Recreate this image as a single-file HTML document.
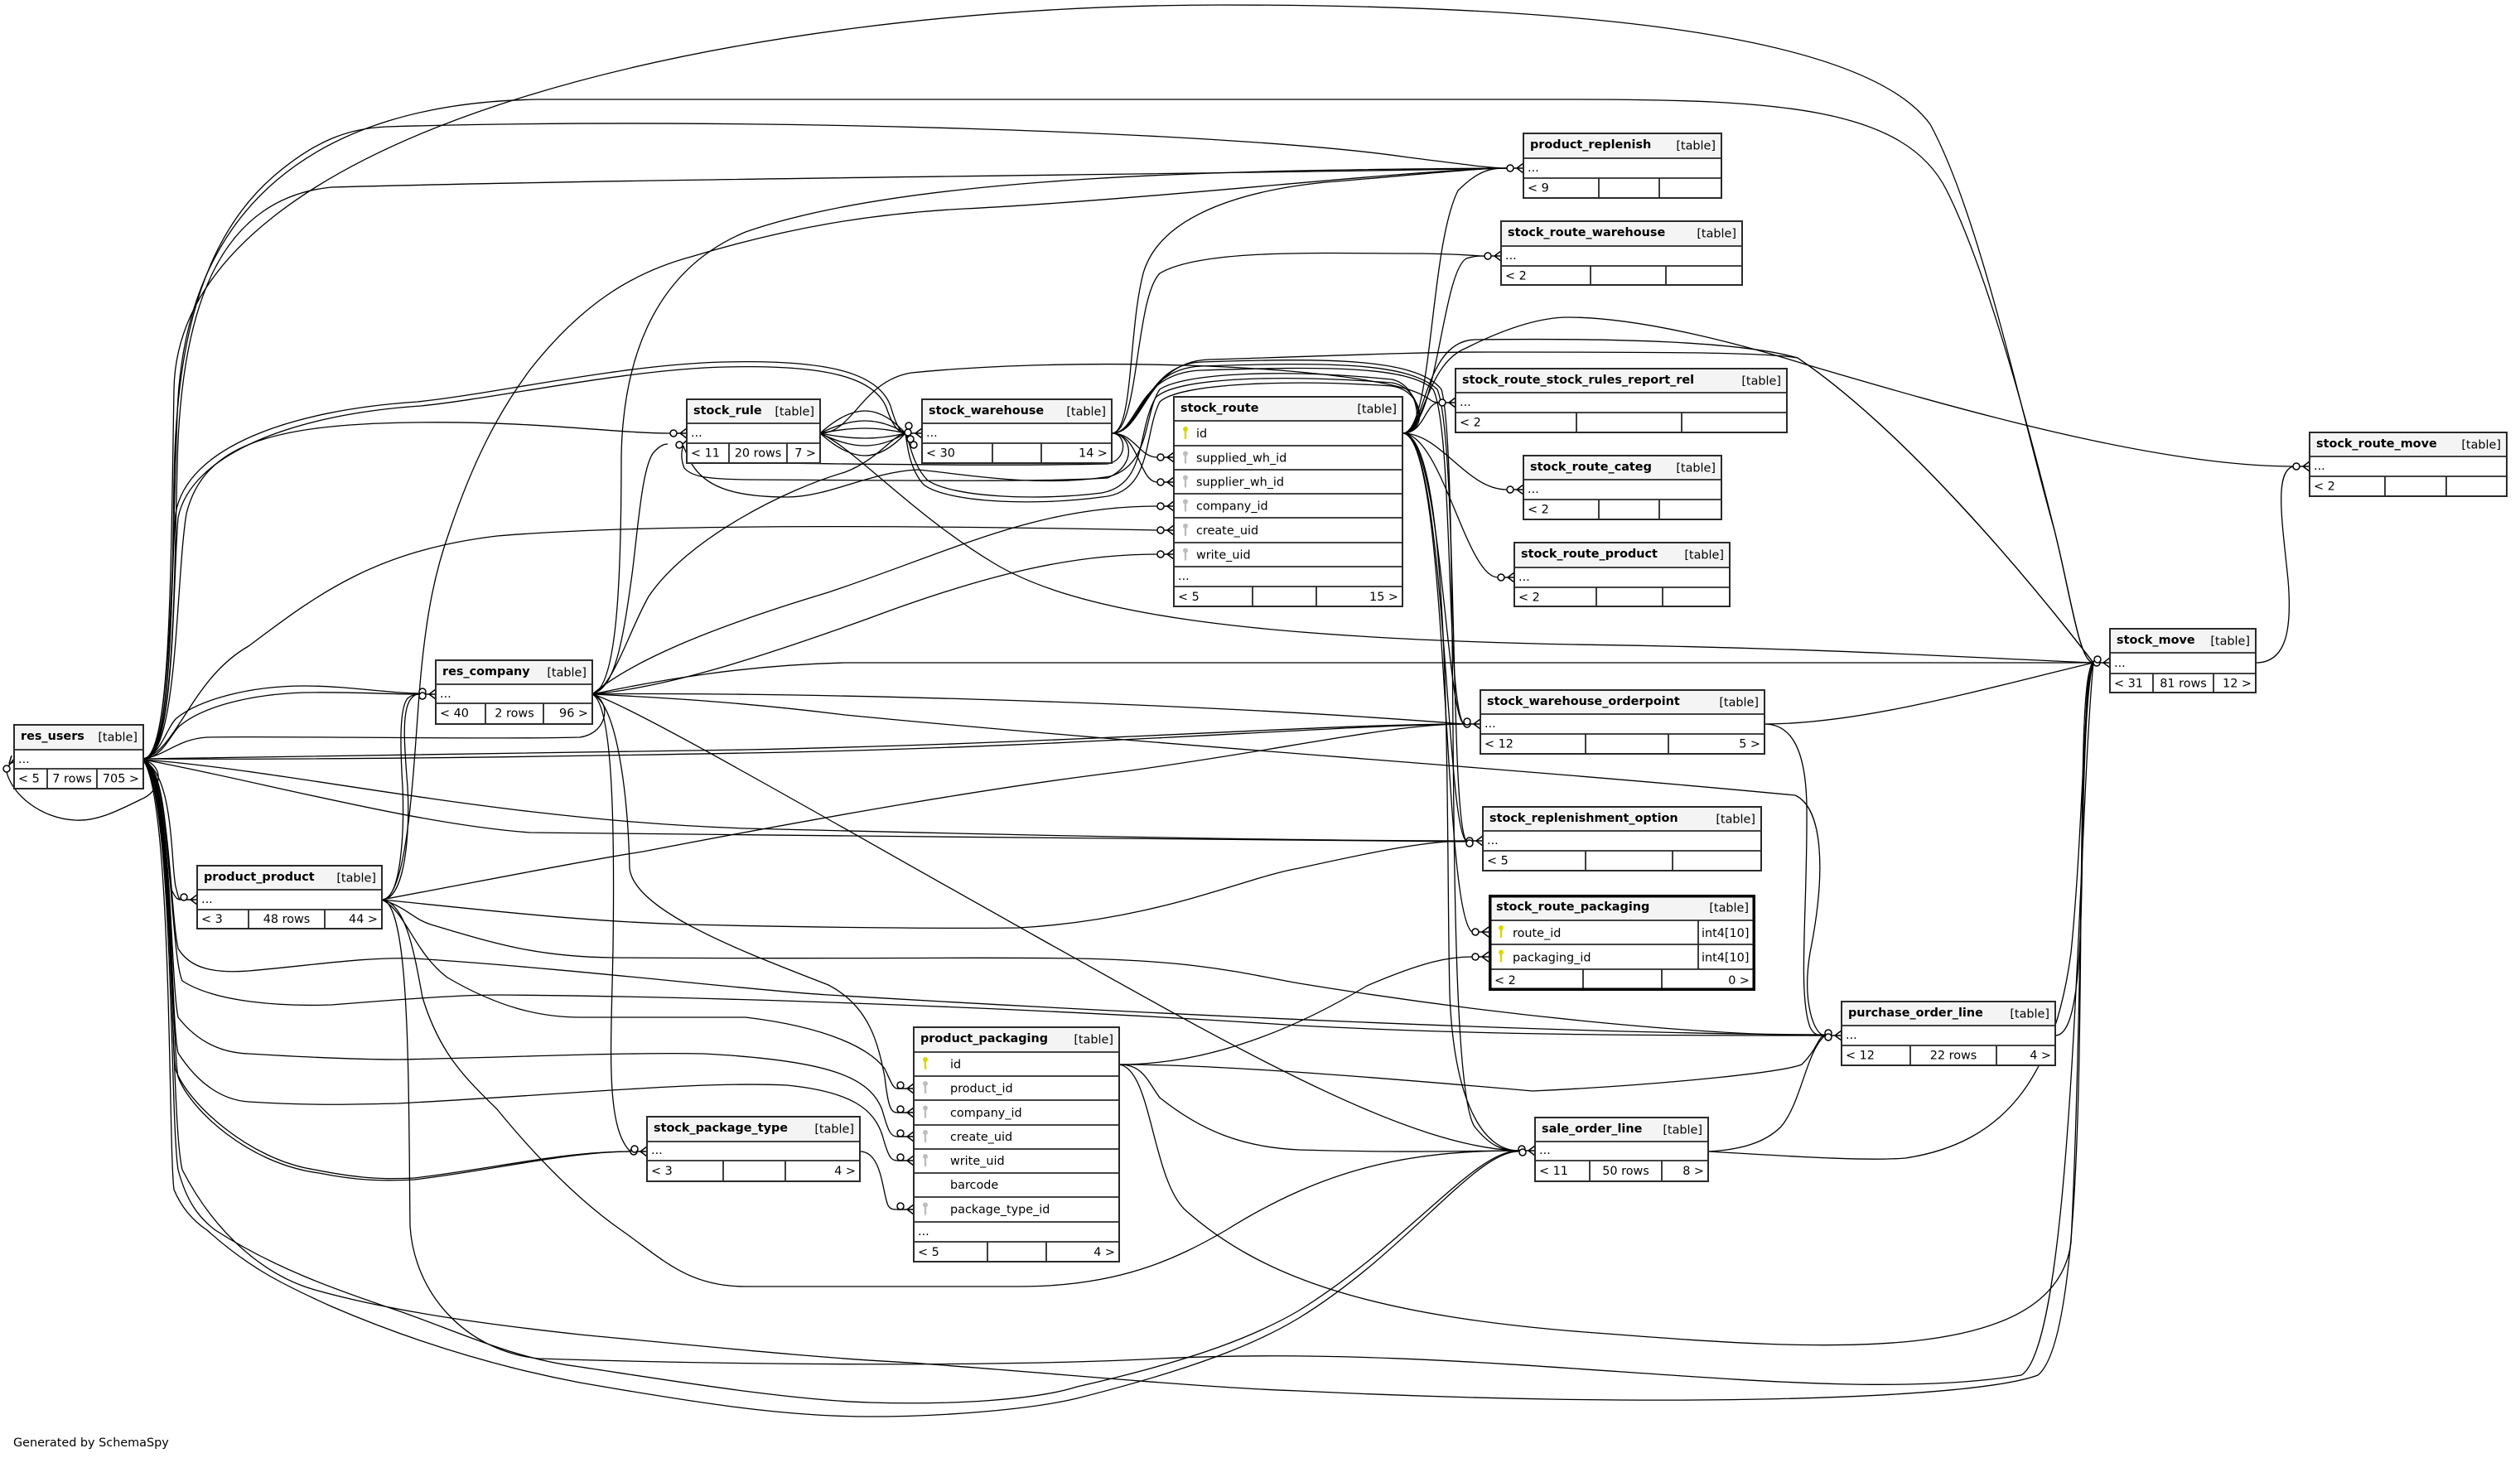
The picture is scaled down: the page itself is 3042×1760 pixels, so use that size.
<!DOCTYPE html>
<html>
<head>
<meta charset="utf-8">
<style>
html,body{margin:0;padding:0;background:#fff;}
svg{display:block;}
text{font-family:"DejaVu Sans","Liberation Sans",sans-serif;font-size:14.4px;fill:#000;}
.t{font-weight:bold;}
.e path{fill:none;stroke:#000;stroke-width:1.3;}
.m path{fill:none;stroke:#000;stroke-width:1.5;}
.m circle{fill:#fff;stroke:#000;stroke-width:1.5;}
.tb .bg{fill:#fff;}
.tb .hd{fill:#f4f4f4;}
.tb .ln{fill:none;stroke:#2a2a2a;stroke-width:1.8;}
.tb .bx{fill:none;stroke:#2a2a2a;stroke-width:2;}
.tb .bxk{fill:none;stroke:#000;stroke-width:3.5;}
.pk{fill:#d8d800;}
.fk{fill:#bdbdbd;}
</style>
</head>
<body>
<svg width="3042" height="1760" viewBox="0 0 3042 1760" xmlns="http://www.w3.org/2000/svg">
<rect width="3042" height="1760" fill="#fff"/>

<!-- EDGES -->
<g class="e">
<path d="M173,916 C206,916 206,700 210,470 C215,150 900,6 1475,6 C1900,6 2250,40 2330,150 C2390,260 2440,500 2480,640 C2500,720 2510,800 2527,800"/>
<path d="M173,916 C208,916 208,650 214,500 C222,250 380,124 650,120 L1900,120 C2150,120 2300,130 2350,230 C2400,330 2450,520 2480,640 C2500,720 2510,800 2527,800"/>
<path d="M173,916 C208,916 208,700 210,582 C212,450 230,300 330,213 C380,170 420,155 466,153 C900,140 1500,160 1700,190 C1780,200 1800,203 1819,203"/>
<path d="M173,916 C210,916 210,720 214,560 C218,380 260,240 400,226 C800,215 1500,210 1819,203"/>
<path d="M173,916 C215,916 212,700 225,620 C245,540 320,512 500,510 C650,508 740,523 809,523"/>
<path d="M173,916 C210,916 205,700 212,620 C225,540 350,495 504,485 C600,475 750,440 873,437 C1000,434 1060,450 1075,490 C1082,515 1088,523 1093,523"/>
<path d="M173,917 C212,917 208,705 215,625 C230,548 355,500 508,490 C605,480 755,446 875,443 C995,440 1055,455 1070,492 C1078,516 1086,523 1093,523"/>
<path d="M173,916 C215,905 230,820 300,780 C380,720 450,665 600,647 C800,630 1200,636 1397,640"/>
<path d="M715,838 C800,830 900,800 1050,746 C1200,690 1300,669 1397,669"/>
<path d="M173,916 C195,910 200,880 213,867 C240,845 300,828 367,828 C420,828 470,837 506,837"/>
<path d="M173,917 C198,912 205,888 216,877 C245,852 305,838 367,836 C420,835 470,838 506,838"/>
<path d="M173,917 C200,925 195,955 170,965 C140,980 115,992 90,990 C50,988 15,960 8,932"/>
<path d="M715,838 C738,845 735,885 700,890 C600,893 300,888 250,890 C215,892 200,912 173,916"/>
<path d="M173,916 C300,914 500,913 900,905 C1300,897 1600,874 1767,874"/>
<path d="M173,916 C320,917 520,916 900,909 C1300,902 1600,876 1767,874"/>
<path d="M173,917 C350,930 600,990 900,1000 C1300,1010 1600,1015 1770,1015"/>
<path d="M173,917 C300,940 500,995 640,1005 C1000,1010 1500,1012 1770,1016"/>
<path d="M173,917 C205,930 205,1100 215,1145 C230,1170 260,1175 300,1172 C380,1165 440,1155 500,1157 C700,1170 900,1195 1000,1201 C1400,1225 1900,1248 2203,1249"/>
<path d="M173,917 C207,935 205,1150 220,1184 C260,1210 340,1215 400,1213 C500,1205 560,1201 600,1201 C900,1203 1300,1220 1568,1238 C1800,1250 2000,1250 2203,1250"/>
<path d="M173,917 C205,930 200,1060 208,1076 C212,1084 214,1086 218,1086"/>
<path d="M173,918 C210,935 206,1040 212,1070 C215,1082 216,1086 218,1086"/>
<path d="M173,917 C208,940 205,1180 215,1228 C240,1260 270,1271 300,1272 C400,1278 450,1279 480,1279 C600,1277 750,1270 850,1272 C1000,1280 1050,1300 1065,1340 C1072,1365 1075,1372 1083,1372"/>
<path d="M173,917 C210,945 205,1230 215,1271 C240,1310 270,1328 300,1330 C380,1335 430,1333 480,1332 C700,1320 850,1305 950,1310 C1030,1318 1055,1340 1065,1370 C1072,1395 1075,1401 1083,1401"/>
<path d="M173,917 C210,950 205,1250 212,1291 C225,1330 300,1400 380,1412 C430,1422 460,1424 500,1422 C600,1410 680,1390 761,1390"/>
<path d="M173,918 C208,955 207,1260 215,1300 C230,1340 300,1405 385,1416 C430,1425 460,1426 500,1424 C600,1412 680,1391 761,1390"/>
<path d="M173,918 C210,960 205,1350 215,1412 C225,1450 240,1470 260,1485 C330,1530 400,1555 480,1582 C560,1610 620,1640 700,1650 C800,1665 950,1690 1050,1693 C1150,1696 1250,1690 1300,1674 C1450,1640 1520,1610 1568,1582 C1700,1500 1780,1389 1833,1389"/>
<path d="M173,918 C208,965 203,1380 210,1436 C220,1460 235,1475 250,1485 C300,1530 340,1550 400,1577 C500,1620 600,1650 700,1669 C850,1695 950,1710 1050,1710 C1150,1710 1250,1700 1300,1688 C1450,1650 1520,1620 1568,1591 C1700,1510 1780,1390 1833,1390"/>
<path d="M173,918 C212,960 205,1350 220,1412 C260,1490 320,1540 380,1557 C480,1585 600,1600 700,1611 C900,1630 1000,1640 1100,1645 C1300,1660 1450,1675 1568,1679 C2000,1700 2380,1690 2460,1660 C2510,1620 2510,1300 2512,1100 C2514,900 2515,810 2527,800"/>

<path d="M990,523 C1030,487 1060,487 1093,523"/>
<path d="M990,523 C1030,503 1060,503 1093,523"/>
<path d="M990,523 C1030,515 1060,515 1093,523"/>
<path d="M990,523 C1030,531 1060,531 1093,523"/>
<path d="M990,523 C1030,543 1060,543 1093,523"/>
<path d="M990,523 C1030,559 1060,559 1093,523"/>

<path d="M1342,523 C1370,523 1375,552 1397,552"/>
<path d="M1342,523 C1375,523 1375,582 1397,582"/>
<path d="M715,838 C760,800 850,760 1000,715 C1150,665 1250,611 1397,611"/>
<path d="M1342,523 C1368,523 1362,400 1380,330 C1400,260 1500,230 1600,220 C1700,212 1780,203 1819,203"/>
<path d="M1342,523 C1375,523 1370,360 1400,330 C1450,300 1600,306 1700,306 C1760,306 1780,309 1792,309"/>
<path d="M1342,523 C1375,523 1370,450 1450,447 C1600,442 1700,442 1730,470 C1755,520 1745,850 1767,874"/>
<path d="M1342,523 C1378,523 1375,445 1450,442 C1600,437 1700,437 1735,470 C1760,530 1750,990 1770,1015"/>
<path d="M1342,523 C1380,523 1380,440 1450,437 C1600,432 1710,432 1740,470 C1765,560 1740,1300 1780,1360 C1800,1385 1815,1389 1833,1389"/>
<path d="M1342,523 C1382,523 1382,436 1460,434 C1600,430 1700,425 1800,425 C2000,425 2130,425 2170,432 C2300,520 2450,700 2527,800"/>
<path d="M1342,523 C1365,523 1375,560 1337,577 C1250,582 1107,580 900,579 C850,578 835,575 826,565 C822,555 822,545 825,538"/>
<path d="M1342,523 C1360,523 1362,555 1337,560 C1200,563 1000,560 877,558 C850,557 835,557 829,550"/>
<path d="M1693,523 C1720,523 1715,465 1680,458 C1550,445 1430,450 1400,470 C1380,500 1390,560 1340,575 C1250,590 1150,570 1107,567 C1050,570 1000,600 950,600 C880,600 850,585 835,560 C830,550 825,540 825,538"/>
<path d="M1693,523 C1722,523 1718,468 1680,462 C1550,452 1420,455 1395,480 C1372,520 1385,585 1330,595 C1250,605 1150,600 1120,580 C1100,560 1098,530 1093,523"/>
<path d="M1693,523 C1724,523 1720,472 1680,466 C1560,458 1425,462 1400,485 C1380,525 1392,595 1330,600 C1240,612 1140,605 1115,585 C1097,565 1095,535 1093,523"/>

<path d="M1693,523 C1730,523 1725,300 1760,230 C1785,205 1800,203 1819,203"/>
<path d="M1693,523 C1735,523 1740,330 1770,312 C1780,309 1785,309 1792,309"/>
<path d="M1693,523 C1720,523 1720,486 1737,486"/>
<path d="M1693,523 C1740,523 1770,591 1819,591"/>
<path d="M1693,523 C1740,523 1770,697 1808,697"/>
<path d="M1693,523 C1740,523 1745,860 1767,874"/>
<path d="M1693,523 C1745,523 1745,1000 1770,1015"/>
<path d="M1693,523 C1750,523 1740,1100 1777,1125"/>
<path d="M1693,523 C1755,523 1745,1000 1750,1200 C1755,1330 1790,1389 1833,1389"/>
<path d="M1693,523 C1720,523 1720,440 1770,420 C1820,395 1860,383 1893,383 C1980,383 2100,415 2180,440 C2350,490 2600,563 2768,563"/>
<path d="M1693,523 C1722,523 1718,412 1780,410 C1950,408 2100,412 2170,432 C2300,520 2450,700 2527,800"/>

<path d="M990,523 C1030,540 1100,620 1200,680 C1300,740 1500,770 1900,778 C2200,782 2400,795 2527,800"/>
<path d="M990,523 C1030,523 1040,460 1100,450 C1300,430 1600,440 1700,470 C1730,480 1725,486 1737,486"/>

<path d="M715,838 C740,830 750,790 763,693 C770,640 775,560 790,545 C798,537 802,536 806,536"/>
<path d="M715,838 C740,830 760,760 783,720 C830,650 950,590 1020,570 C1060,555 1080,523 1093,523"/>
<path d="M715,838 C745,830 750,700 750,550 C752,450 780,330 900,280 C1100,210 1500,205 1819,203"/>
<path d="M715,838 C900,835 1400,845 1767,874"/>
<path d="M715,838 C800,842 900,848 1020,863 C1400,900 1800,925 2167,960 C2200,975 2205,1050 2185,1150 C2175,1210 2190,1250 2203,1250"/>
<path d="M715,838 C800,820 900,803 1020,800 C1500,800 2200,800 2527,800"/>
<path d="M715,838 C760,850 1000,990 1250,1130 C1500,1270 1700,1385 1833,1389"/>
<path d="M715,838 C745,850 758,960 760,1048 C765,1100 900,1150 1000,1189 C1050,1215 1060,1260 1068,1300 C1072,1335 1075,1343 1083,1343"/>
<path d="M715,838 C740,850 742,1000 740,1145 C738,1260 730,1360 761,1390"/>

<path d="M461,1086 C495,1086 500,900 508,815 C515,740 525,690 543,640 C570,560 600,500 640,446 C700,370 760,330 834,310 C950,275 1050,258 1164,252 C1400,240 1700,205 1819,203"/>
<path d="M461,1086 C490,1086 495,1000 492,950 C488,900 485,860 495,845 C500,838 503,838 506,838"/>
<path d="M461,1086 C485,1086 488,1000 486,950 C483,900 482,855 492,843 C498,838 503,838 506,838"/>
<path d="M461,1086 C600,1060 700,1040 776,1028 C1000,985 1200,950 1358,931 C1550,905 1680,874 1767,874"/>
<path d="M461,1086 C600,1100 700,1112 830,1116 C1000,1120 1150,1121 1230,1120 C1400,1110 1500,1060 1568,1048 C1650,1030 1720,1015 1770,1015"/>
<path d="M461,1086 C490,1095 500,1110 520,1116 C600,1140 650,1155 740,1156 C1000,1158 1200,1155 1300,1157 C1450,1160 1500,1175 1568,1187 C1800,1225 2050,1250 2203,1250"/>
<path d="M461,1086 C490,1100 500,1150 540,1180 C600,1215 650,1228 700,1228 L900,1228 C1000,1240 1050,1266 1068,1290 C1075,1305 1078,1314 1083,1314"/>
<path d="M461,1086 C490,1090 500,1150 510,1204 C530,1270 560,1300 600,1339 C650,1400 700,1450 750,1485 C800,1520 830,1553 900,1553 L1230,1553 C1350,1553 1420,1520 1480,1485 C1600,1410 1700,1389 1833,1389"/>
<path d="M461,1086 C495,1090 493,1300 495,1480 C500,1560 560,1630 650,1640 C900,1648 1200,1650 1400,1640 C1800,1620 2200,1700 2440,1660 C2505,1620 2508,1000 2527,800"/>

<path d="M1351,1285 C1450,1285 1550,1250 1650,1190 C1720,1160 1750,1155 1777,1155"/>
<path d="M1351,1285 C1450,1285 1600,1295 1850,1317 C2000,1310 2150,1295 2175,1285 C2195,1265 2195,1250 2203,1250"/>
<path d="M1351,1285 C1380,1285 1385,1305 1400,1325 C1450,1365 1500,1385 1568,1388 C1700,1392 1780,1389 1833,1389"/>
<path d="M1351,1285 C1390,1290 1390,1420 1430,1460 C1520,1540 1650,1590 1940,1610 C2200,1630 2480,1650 2500,1500 C2515,1200 2510,850 2527,800"/>
<path d="M1038,1390 C1065,1390 1065,1440 1072,1455 C1075,1460 1078,1460 1083,1460"/>
<path d="M2062,1390 C2100,1388 2130,1380 2150,1360 C2175,1330 2180,1270 2203,1250"/>
<path d="M2062,1390 C2150,1395 2250,1402 2300,1398 C2420,1380 2480,1300 2500,1150 C2515,1000 2515,820 2527,800"/>
<path d="M2481,1250 C2515,1250 2512,1100 2515,950 C2518,850 2520,800 2527,800"/>
<path d="M2130,874 C2250,874 2400,830 2527,800"/>
<path d="M2130,874 C2160,874 2180,900 2181,974 C2182,1100 2170,1200 2185,1240 C2190,1250 2195,1250 2203,1250"/>
<path d="M2723,800 C2760,800 2767,760 2762,700 C2755,630 2745,570 2768,563"/>
</g>

<!-- MARKERS (zero-or-many) -->
<g class="m">
<path d="M506,838 H518 L526,832 M518,838 H526 M518,838 L526,844"/><circle cx="510" cy="835" r="4"/><circle cx="510" cy="840" r="4"/>
<path d="M809,523 H821 L829,517 M821,523 H829 M821,523 L829,529"/><circle cx="813" cy="523" r="4"/>
<path d="M824,536 L831,530"/><circle cx="820" cy="537" r="4"/>
<path d="M1093,523 H1105 L1113,517 M1105,523 H1113 M1105,523 L1113,529"/><circle cx="1097" cy="514" r="4"/><circle cx="1096" cy="522" r="4"/><circle cx="1099" cy="530" r="4"/><circle cx="1103" cy="537" r="4"/>
<path d="M1397,552 H1409 L1417,546 M1409,552 H1417 M1409,552 L1417,558"/><circle cx="1401" cy="552" r="4"/>
<path d="M1397,582 H1409 L1417,576 M1409,582 H1417 M1409,582 L1417,588"/><circle cx="1401" cy="582" r="4"/>
<path d="M1397,611 H1409 L1417,605 M1409,611 H1417 M1409,611 L1417,617"/><circle cx="1401" cy="611" r="4"/>
<path d="M1397,640 H1409 L1417,634 M1409,640 H1417 M1409,640 L1417,646"/><circle cx="1401" cy="640" r="4"/>
<path d="M1397,669 H1409 L1417,663 M1409,669 H1417 M1409,669 L1417,675"/><circle cx="1401" cy="669" r="4"/>
<path d="M1819,203 H1831 L1839,197 M1831,203 H1839 M1831,203 L1839,209"/><circle cx="1823" cy="203" r="4"/>
<path d="M1792,309 H1804 L1812,303 M1804,309 H1812 M1804,309 L1812,315"/><circle cx="1796" cy="309" r="4"/>
<path d="M1737,486 H1749 L1757,480 M1749,486 H1757 M1749,486 L1757,492"/><circle cx="1741" cy="486" r="4"/>
<path d="M1819,591 H1831 L1839,585 M1831,591 H1839 M1831,591 L1839,597"/><circle cx="1823" cy="591" r="4"/>
<path d="M1808,697 H1820 L1828,691 M1820,697 H1828 M1820,697 L1828,703"/><circle cx="1812" cy="697" r="4"/>
<path d="M2768,563 H2780 L2788,557 M2780,563 H2788 M2780,563 L2788,569"/><circle cx="2772" cy="563" r="4"/>
<path d="M2527,800 H2539 L2547,794 M2539,800 H2547 M2539,800 L2547,806"/><circle cx="2531" cy="800" r="4"/><circle cx="2532" cy="796" r="4"/>
<path d="M1767,874 H1779 L1787,868 M1779,874 H1787 M1779,874 L1787,880"/><circle cx="1771" cy="874" r="4"/><circle cx="1771" cy="871" r="4"/>
<path d="M1770,1015 H1782 L1790,1009 M1782,1015 H1790 M1782,1015 L1790,1021"/><circle cx="1774" cy="1015" r="4"/><circle cx="1774" cy="1018" r="4"/>
<path d="M1777,1125 H1789 L1797,1119 M1789,1125 H1797 M1789,1125 L1797,1131"/><circle cx="1781" cy="1125" r="4"/>
<path d="M1777,1155 H1789 L1797,1149 M1789,1155 H1797 M1789,1155 L1797,1161"/><circle cx="1781" cy="1155" r="4"/>
<path d="M2203,1250 H2215 L2223,1244 M2215,1250 H2223 M2215,1250 L2223,1256"/><circle cx="2207" cy="1247" r="4"/><circle cx="2207" cy="1252" r="4"/>
<path d="M1833,1389 H1845 L1853,1383 M1845,1389 H1853 M1845,1389 L1853,1395"/><circle cx="1837" cy="1387" r="4"/><circle cx="1838" cy="1391" r="4"/>
<path d="M218,1086 H230 L238,1080 M230,1086 H238 M230,1086 L238,1092"/><circle cx="222" cy="1083" r="4"/>
<path d="M1083,1314 H1095 L1103,1308 M1095,1314 H1103 M1095,1314 L1103,1320"/><circle cx="1087" cy="1310" r="4"/>
<path d="M1083,1343 H1095 L1103,1337 M1095,1343 H1103 M1095,1343 L1103,1349"/><circle cx="1087" cy="1339" r="4"/>
<path d="M1083,1372 H1095 L1103,1366 M1095,1372 H1103 M1095,1372 L1103,1378"/><circle cx="1087" cy="1368" r="4"/>
<path d="M1083,1401 H1095 L1103,1395 M1095,1401 H1103 M1095,1401 L1103,1407"/><circle cx="1087" cy="1397" r="4"/>
<path d="M1083,1460 H1095 L1103,1454 M1095,1460 H1103 M1095,1460 L1103,1466"/><circle cx="1087" cy="1456" r="4"/>
<path d="M761,1390 H773 L781,1384 M773,1390 H781 M773,1390 L781,1396"/><circle cx="765" cy="1390" r="4"/><circle cx="766" cy="1387" r="4"/>
<path d="M10,925 L17,916 M11,922 L14,912 M11,922 L19,919"/><circle cx="8" cy="928" r="4"/>
</g>

<!-- TABLES -->
<!-- res_users -->
<g class="tb">
<rect class="bg" x="17" y="875" width="156" height="77"/><rect class="hd" x="17" y="875" width="156" height="30"/>
<path class="ln" d="M17,905 H173 M17,928 H173 M57,928 V952 M117,928 V952"/>
<rect class="bx" x="17" y="875" width="156" height="77"/>
<text class="t" x="25" y="893">res_users</text><text x="166" y="894.5" text-anchor="end">[table]</text>
<text x="22" y="921">...</text>
<text x="22" y="944.5">&lt; 5</text><text x="87" y="944.5" text-anchor="middle">7 rows</text><text x="168" y="944.5" text-anchor="end">705 &gt;</text>
</g>
<!-- res_company -->
<g class="tb">
<rect class="bg" x="526" y="797" width="189" height="77"/><rect class="hd" x="526" y="797" width="189" height="29"/>
<path class="ln" d="M526,826 H715 M526,849 H715 M586,849 V874 M656,849 V874"/>
<rect class="bx" x="526" y="797" width="189" height="77"/>
<text class="t" x="534" y="815">res_company</text><text x="708" y="816.5" text-anchor="end">[table]</text>
<text x="531" y="842">...</text>
<text x="531" y="865.5">&lt; 40</text><text x="621" y="865.5" text-anchor="middle">2 rows</text><text x="710" y="865.5" text-anchor="end">96 &gt;</text>
</g>
<!-- stock_rule -->
<g class="tb">
<rect class="bg" x="829" y="482" width="161" height="77"/><rect class="hd" x="829" y="482" width="161" height="29"/>
<path class="ln" d="M829,511 H990 M829,535 H990 M880,535 V559 M950,535 V559"/>
<rect class="bx" x="829" y="482" width="161" height="77"/>
<text class="t" x="837" y="500">stock_rule</text><text x="983" y="501.5" text-anchor="end">[table]</text>
<text x="834" y="527">...</text>
<text x="834" y="551.5">&lt; 11</text><text x="915" y="551.5" text-anchor="middle">20 rows</text><text x="985" y="551.5" text-anchor="end">7 &gt;</text>
</g>
<!-- stock_warehouse -->
<g class="tb">
<rect class="bg" x="1113" y="482" width="229" height="77"/><rect class="hd" x="1113" y="482" width="229" height="29"/>
<path class="ln" d="M1113,511 H1342 M1113,535 H1342 M1198,535 V559 M1257,535 V559"/>
<rect class="bx" x="1113" y="482" width="229" height="77"/>
<text class="t" x="1121" y="500">stock_warehouse</text><text x="1335" y="501.5" text-anchor="end">[table]</text>
<text x="1118" y="527">...</text>
<text x="1118" y="551.5">&lt; 30</text><text x="1337" y="551.5" text-anchor="end">14 &gt;</text>
</g>
<!-- stock_route -->
<g class="tb">
<rect class="bg" x="1417" y="479" width="276" height="253"/><rect class="hd" x="1417" y="479" width="276" height="29"/>
<path class="ln" d="M1417,508 H1693 M1417,538 H1693 M1417,567 H1693 M1417,596 H1693 M1417,625 H1693 M1417,655 H1693 M1417,684 H1693 M1417,708 H1693 M1512,708 V732 M1589,708 V732"/>
<rect class="bx" x="1417" y="479" width="276" height="253"/>
<text class="t" x="1425" y="497">stock_route</text><text x="1686" y="498.5" text-anchor="end">[table]</text>
<g class="pk"><circle cx="1431" cy="518" r="3"/><rect x="1429.8" y="519" width="2.4" height="11"/></g>
<g class="fk"><circle cx="1431" cy="547.5" r="3"/><rect x="1429.8" y="548.5" width="2.4" height="11"/></g>
<g class="fk"><circle cx="1431" cy="576.5" r="3"/><rect x="1429.8" y="577.5" width="2.4" height="11"/></g>
<g class="fk"><circle cx="1431" cy="605.5" r="3"/><rect x="1429.8" y="606.5" width="2.4" height="11"/></g>
<g class="fk"><circle cx="1431" cy="635" r="3"/><rect x="1429.8" y="636" width="2.4" height="11"/></g>
<g class="fk"><circle cx="1431" cy="664.5" r="3"/><rect x="1429.8" y="665.5" width="2.4" height="11"/></g>
<text x="1444" y="528">id</text>
<text x="1444" y="557.5">supplied_wh_id</text>
<text x="1444" y="586.5">supplier_wh_id</text>
<text x="1444" y="615.5">company_id</text>
<text x="1444" y="645">create_uid</text>
<text x="1444" y="674.5">write_uid</text>
<text x="1422" y="700">...</text>
<text x="1422" y="725">&lt; 5</text><text x="1688" y="725" text-anchor="end">15 &gt;</text>
</g>
<!-- product_replenish -->
<g class="tb">
<rect class="bg" x="1839" y="161" width="239" height="78"/><rect class="hd" x="1839" y="161" width="239" height="30"/>
<path class="ln" d="M1839,191 H2078 M1839,215 H2078 M1930,215 V239 M2003,215 V239"/>
<rect class="bx" x="1839" y="161" width="239" height="78"/>
<text class="t" x="1847" y="179">product_replenish</text><text x="2071" y="180.5" text-anchor="end">[table]</text>
<text x="1844" y="207">...</text>
<text x="1844" y="231.5">&lt; 9</text>
</g>
<!-- stock_route_warehouse -->
<g class="tb">
<rect class="bg" x="1812" y="267" width="291" height="77"/><rect class="hd" x="1812" y="267" width="291" height="30"/>
<path class="ln" d="M1812,297 H2103 M1812,321 H2103 M1920,321 V344 M2011,321 V344"/>
<rect class="bx" x="1812" y="267" width="291" height="77"/>
<text class="t" x="1820" y="285">stock_route_warehouse</text><text x="2096" y="286.5" text-anchor="end">[table]</text>
<text x="1817" y="313">...</text>
<text x="1817" y="337.5">&lt; 2</text>
</g>
<!-- stock_route_stock_rules_report_rel -->
<g class="tb">
<rect class="bg" x="1757" y="445" width="400" height="77"/><rect class="hd" x="1757" y="445" width="400" height="29"/>
<path class="ln" d="M1757,474 H2157 M1757,498 H2157 M1903,498 V522 M2030,498 V522"/>
<rect class="bx" x="1757" y="445" width="400" height="77"/>
<text class="t" x="1765" y="463">stock_route_stock_rules_report_rel</text><text x="2150" y="464.5" text-anchor="end">[table]</text>
<text x="1762" y="490">...</text>
<text x="1762" y="514.5">&lt; 2</text>
</g>
<!-- stock_route_categ -->
<g class="tb">
<rect class="bg" x="1839" y="550" width="239" height="77"/><rect class="hd" x="1839" y="550" width="239" height="29"/>
<path class="ln" d="M1839,579 H2078 M1839,603 H2078 M1930,603 V627 M2003,603 V627"/>
<rect class="bx" x="1839" y="550" width="239" height="77"/>
<text class="t" x="1847" y="568">stock_route_categ</text><text x="2071" y="569.5" text-anchor="end">[table]</text>
<text x="1844" y="595">...</text>
<text x="1844" y="619.5">&lt; 2</text>
</g>
<!-- stock_route_product -->
<g class="tb">
<rect class="bg" x="1828" y="655" width="260" height="77"/><rect class="hd" x="1828" y="655" width="260" height="30"/>
<path class="ln" d="M1828,685 H2088 M1828,709 H2088 M1927,709 V732 M2007,709 V732"/>
<rect class="bx" x="1828" y="655" width="260" height="77"/>
<text class="t" x="1836" y="673">stock_route_product</text><text x="2081" y="674.5" text-anchor="end">[table]</text>
<text x="1833" y="701">...</text>
<text x="1833" y="725.5">&lt; 2</text>
</g>
<!-- stock_route_move -->
<g class="tb">
<rect class="bg" x="2788" y="522" width="238" height="77"/><rect class="hd" x="2788" y="522" width="238" height="29"/>
<path class="ln" d="M2788,551 H3026 M2788,575 H3026 M2879,575 V599 M2953,575 V599"/>
<rect class="bx" x="2788" y="522" width="238" height="77"/>
<text class="t" x="2796" y="540">stock_route_move</text><text x="3019" y="541.5" text-anchor="end">[table]</text>
<text x="2793" y="567">...</text>
<text x="2793" y="591.5">&lt; 2</text>
</g>
<!-- stock_move -->
<g class="tb">
<rect class="bg" x="2547" y="759" width="176" height="77"/><rect class="hd" x="2547" y="759" width="176" height="29"/>
<path class="ln" d="M2547,788 H2723 M2547,813 H2723 M2599,813 V836 M2672,813 V836"/>
<rect class="bx" x="2547" y="759" width="176" height="77"/>
<text class="t" x="2555" y="777">stock_move</text><text x="2716" y="778.5" text-anchor="end">[table]</text>
<text x="2552" y="805">...</text>
<text x="2552" y="829.5">&lt; 31</text><text x="2635.5" y="829.5" text-anchor="middle">81 rows</text><text x="2718" y="829.5" text-anchor="end">12 &gt;</text>
</g>
<!-- stock_warehouse_orderpoint -->
<g class="tb">
<rect class="bg" x="1787" y="833" width="343" height="77"/><rect class="hd" x="1787" y="833" width="343" height="29"/>
<path class="ln" d="M1787,862 H2130 M1787,886 H2130 M1914,886 V910 M2014,886 V910"/>
<rect class="bx" x="1787" y="833" width="343" height="77"/>
<text class="t" x="1795" y="851">stock_warehouse_orderpoint</text><text x="2123" y="852.5" text-anchor="end">[table]</text>
<text x="1792" y="878">...</text>
<text x="1792" y="902.5">&lt; 12</text><text x="2125" y="902.5" text-anchor="end">5 &gt;</text>
</g>
<!-- stock_replenishment_option -->
<g class="tb">
<rect class="bg" x="1790" y="974" width="336" height="77"/><rect class="hd" x="1790" y="974" width="336" height="29"/>
<path class="ln" d="M1790,1003 H2126 M1790,1027 H2126 M1914,1027 V1051 M2019,1027 V1051"/>
<rect class="bx" x="1790" y="974" width="336" height="77"/>
<text class="t" x="1798" y="992">stock_replenishment_option</text><text x="2119" y="993.5" text-anchor="end">[table]</text>
<text x="1795" y="1019">...</text>
<text x="1795" y="1043.5">&lt; 5</text>
</g>
<!-- stock_route_packaging -->
<g class="tb">
<rect class="bg" x="1798.75" y="1081.75" width="318.5" height="112.5"/><rect class="hd" x="1798.75" y="1081.75" width="318.5" height="29.25"/>
<path class="ln" d="M1798,1111 H2118 M1798,1140 H2118 M1798,1170 H2118 M2050,1111 V1170 M1911,1170 V1195 M2006,1170 V1195"/>
<rect class="bxk" x="1798.75" y="1081.75" width="318.5" height="112.5"/>
<text class="t" x="1806" y="1099">stock_route_packaging</text><text x="2111" y="1100.5" text-anchor="end">[table]</text>
<g class="pk"><circle cx="1812" cy="1120" r="3"/><rect x="1810.8" y="1121" width="2.4" height="11"/></g>
<g class="pk"><circle cx="1812" cy="1149.5" r="3"/><rect x="1810.8" y="1150.5" width="2.4" height="11"/></g>
<text x="1826" y="1131">route_id</text><text x="2054" y="1131">int4[10]</text>
<text x="1826" y="1160.5">packaging_id</text><text x="2054" y="1160.5">int4[10]</text>
<text x="1804" y="1188">&lt; 2</text><text x="2112" y="1188" text-anchor="end">0 &gt;</text>
</g>
<!-- purchase_order_line -->
<g class="tb">
<rect class="bg" x="2223" y="1209" width="258" height="77"/><rect class="hd" x="2223" y="1209" width="258" height="29"/>
<path class="ln" d="M2223,1238 H2481 M2223,1262 H2481 M2306,1262 V1286 M2410,1262 V1286"/>
<rect class="bx" x="2223" y="1209" width="258" height="77"/>
<text class="t" x="2231" y="1227">purchase_order_line</text><text x="2474" y="1228.5" text-anchor="end">[table]</text>
<text x="2228" y="1254">...</text>
<text x="2228" y="1278.5">&lt; 12</text><text x="2358" y="1278.5" text-anchor="middle">22 rows</text><text x="2476" y="1278.5" text-anchor="end">4 &gt;</text>
</g>
<!-- sale_order_line -->
<g class="tb">
<rect class="bg" x="1853" y="1349" width="209" height="77"/><rect class="hd" x="1853" y="1349" width="209" height="29"/>
<path class="ln" d="M1853,1378 H2062 M1853,1401 H2062 M1919,1401 V1426 M2006,1401 V1426"/>
<rect class="bx" x="1853" y="1349" width="209" height="77"/>
<text class="t" x="1861" y="1367">sale_order_line</text><text x="2055" y="1368.5" text-anchor="end">[table]</text>
<text x="1858" y="1393">...</text>
<text x="1858" y="1418">&lt; 11</text><text x="1962.5" y="1418" text-anchor="middle">50 rows</text><text x="2057" y="1418" text-anchor="end">8 &gt;</text>
</g>
<!-- product_product -->
<g class="tb">
<rect class="bg" x="238" y="1045" width="223" height="76"/><rect class="hd" x="238" y="1045" width="223" height="29"/>
<path class="ln" d="M238,1074 H461 M238,1098 H461 M300,1098 V1121 M392,1098 V1121"/>
<rect class="bx" x="238" y="1045" width="223" height="76"/>
<text class="t" x="246" y="1063">product_product</text><text x="454" y="1064.5" text-anchor="end">[table]</text>
<text x="243" y="1090">...</text>
<text x="243" y="1114">&lt; 3</text><text x="346" y="1114" text-anchor="middle">48 rows</text><text x="456" y="1114" text-anchor="end">44 &gt;</text>
</g>
<!-- product_packaging -->
<g class="tb">
<rect class="bg" x="1103" y="1240" width="248" height="283"/><rect class="hd" x="1103" y="1240" width="248" height="30"/>
<path class="ln" d="M1103,1270 H1351 M1103,1299 H1351 M1103,1328 H1351 M1103,1358 H1351 M1103,1387 H1351 M1103,1416 H1351 M1103,1445 H1351 M1103,1475 H1351 M1103,1499 H1351 M1192,1499 V1523 M1263,1499 V1523"/>
<rect class="bx" x="1103" y="1240" width="248" height="283"/>
<text class="t" x="1111" y="1258">product_packaging</text><text x="1344" y="1259.5" text-anchor="end">[table]</text>
<g class="pk"><circle cx="1117" cy="1279" r="3"/><rect x="1115.8" y="1280" width="2.4" height="11"/></g>
<g class="fk"><circle cx="1117" cy="1308" r="3"/><rect x="1115.8" y="1309" width="2.4" height="11"/></g>
<g class="fk"><circle cx="1117" cy="1337.5" r="3"/><rect x="1115.8" y="1338.5" width="2.4" height="11"/></g>
<g class="fk"><circle cx="1117" cy="1367" r="3"/><rect x="1115.8" y="1368" width="2.4" height="11"/></g>
<g class="fk"><circle cx="1117" cy="1396" r="3"/><rect x="1115.8" y="1397" width="2.4" height="11"/></g>
<g class="fk"><circle cx="1117" cy="1454.5" r="3"/><rect x="1115.8" y="1455.5" width="2.4" height="11"/></g>
<text x="1147" y="1289.5">id</text>
<text x="1147" y="1318.5">product_id</text>
<text x="1147" y="1348">company_id</text>
<text x="1147" y="1377">create_uid</text>
<text x="1147" y="1406">write_uid</text>
<text x="1147" y="1435">barcode</text>
<text x="1147" y="1464.5">package_type_id</text>
<text x="1108" y="1491">...</text>
<text x="1108" y="1516">&lt; 5</text><text x="1346" y="1516" text-anchor="end">4 &gt;</text>
</g>
<!-- stock_package_type -->
<g class="tb">
<rect class="bg" x="781" y="1348" width="257" height="78"/><rect class="hd" x="781" y="1348" width="257" height="30"/>
<path class="ln" d="M781,1378 H1038 M781,1401 H1038 M873,1401 V1426 M948,1401 V1426"/>
<rect class="bx" x="781" y="1348" width="257" height="78"/>
<text class="t" x="789" y="1366">stock_package_type</text><text x="1031" y="1367.5" text-anchor="end">[table]</text>
<text x="786" y="1393">...</text>
<text x="786" y="1418">&lt; 3</text><text x="1033" y="1418" text-anchor="end">4 &gt;</text>
</g>

<text x="16" y="1746">Generated by SchemaSpy</text>
</svg>
</body>
</html>
